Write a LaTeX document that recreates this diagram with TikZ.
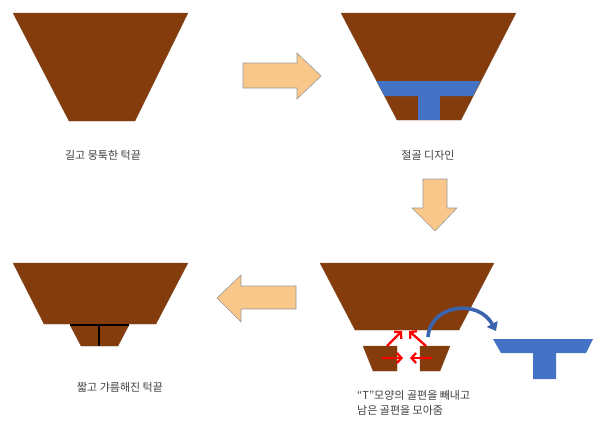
\documentclass[tikz,border=0pt]{standalone}
\usepackage{fontspec}
\newfontfamily\kfont{Noto Sans CJK KR}
\usetikzlibrary{arrows.meta}
\definecolor{chin}{HTML}{843C0C}
\definecolor{cut}{HTML}{4472C4}
\definecolor{cutdark}{HTML}{3A64AE}
\definecolor{peach}{HTML}{F9C78A}
\definecolor{txt}{HTML}{404040}

\begin{document}
\begin{tikzpicture}[x=1pt,y=-1pt]

        \useasboundingbox (0,0) rectangle (600,423);

        \tikzset{bone/.style={fill=chin, draw=chin!70!gray, line width=.3pt},
                 piece/.style={fill=cut},
                 bigarrow/.style={fill=peach, draw=gray!80, line width=.6pt, line join=miter},
                 push/.style={draw=red, line width=2.3pt, -{Straight Barb[length=4.5pt,width=10pt]}}}

        % step 1 : long chin
        \path[bone] (13,13) -- (188,13) -- (135,121) -- (69,121) -- cycle;

        % step 2 : design of the cut
        \path[bone] (341,13) -- (516,13) -- (461,120) -- (397,120) -- cycle;
        \path[piece] (376.5,81) -- (480.6,81) -- (472.9,96) -- (384.4,96) -- cycle;
        \path[piece] (418,95) rectangle (440,120);

        % step 3 : the T piece is taken out
        \path[bone] (320,263) -- (494,263) -- (459,330) -- (355,330) -- cycle;
        \path[bone] (363,346) -- (397,346) -- (397,371) -- (373,371) -- cycle;
        \path[bone] (420,346) -- (450,346) -- (440,371) -- (420,371) -- cycle;
        \path[piece] (493,339) -- (593,339) -- (586,353) -- (556,353) -- (556,379)
                     -- (533,379) -- (533,353) -- (501,353) -- cycle;

        % step 4 : short chin
        \path[bone] (13,263) -- (188,263) -- (156,324) -- (44,324) -- cycle;
        \path[bone] (70,325) -- (129,325) -- (118,346) -- (81,346) -- cycle;
        \draw[line width=1.3pt] (70,325) -- (129,325) (99,325) -- (99,346);

        % block arrows
        \path[bigarrow] (243,63) -- (297,63) -- (297,53) -- (321,76) -- (297,99) -- (297,88) -- (243,88) -- cycle;
        \path[bigarrow] (423,179) -- (447,179) -- (447,208) -- (457,208) -- (435,231) -- (412,208) -- (423,208) -- cycle;
        \path[bigarrow] (296,286) -- (241,286) -- (241,275) -- (217,298) -- (241,322) -- (241,309) -- (296,309) -- cycle;

        \begin{scope}
          \coordinate (l1) at (387,346);
          \coordinate (l2) at (402,331);
          \coordinate (r1) at (426,346);
          \coordinate (r2) at (409,331);
          \coordinate (l3) at (382,358);
          \coordinate (l4) at (403,358);
          \coordinate (r3) at (432,358);
          \coordinate (r4) at (410,358);
          \coordinate (out1) at (428,337);
          \coordinate (out2) at (496,331);
        \end{scope}

        \path[push] (l1) -- (l2);
        \path[push] (r1) -- (r2);
        \path[push] (l3) -- (l4);
        \path[push] (r3) -- (r4);

        \draw[cutdark, line width=3.6pt, -{Triangle[length=8pt,width=12pt]}]
             (out1) .. controls (430,305) and (478,298) .. (out2);

        \begin{scope}[every node/.style={text=txt, font=\kfont\fontsize{11}{15}\selectfont}]
          \node (long)   at (103,155) {길고 뭉툭한 턱끝};
          \node (design) at (428,155) {절골 디자인};
          \node (short)  at (120,387) {짧고 갸름해진 턱끝};
          \node[anchor=north west, align=left, inner sep=0pt] (remove) at (357,390)
               {“T”모양의 골편을 빼내고\\남은 골편을 모아줌};
        \end{scope}

      \end{tikzpicture}
\end{document}
